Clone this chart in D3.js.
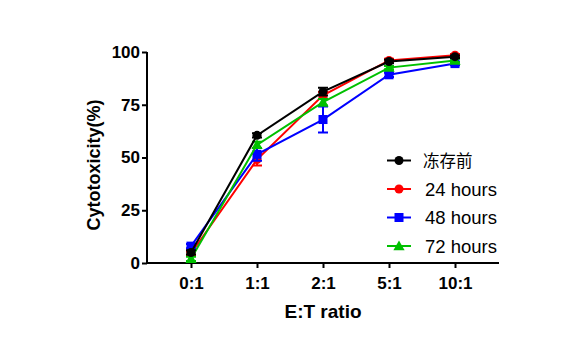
<!DOCTYPE html>
<html><head><meta charset="utf-8">
<script src="https://cdn.jsdelivr.net/npm/d3@7"></script>
<style>body{margin:0;background:#fff}svg{display:block}text{font-family:"Liberation Sans",Arial,sans-serif}</style>
</head><body><svg id="c" width="572" height="352"></svg>
<script>
const categories = ["0:1","1:1","2:1","5:1","10:1"];
const yTicks = [0,25,50,75,100];
const seriesNames = ["冻存前","24 hours","48 hours","72 hours"];
const seriesColors = ["#000000","#ff0000","#0000ff","#00c000"];
const seriesShapes = ["circle","circle","square","triangle"];
const valsBefore = [5,60.5,81.2,95.5,97.8];
const vals24 = [4.5,49,79.5,96,98.5];
const vals48 = [8,51.5,68,89.2,94.5];
const vals72 = [2,56,76.2,92.6,96];
const errBefore = [1,1,1.8,0.8,0.6];
const err24 = [1,2.8,1.5,0.8,0.6];
const err48 = [1,3,6.2,1,0.8];
const err72 = [1,1.5,1.5,0.8,0.8];
const series = [valsBefore, vals24, vals48, vals72];
const errs = [errBefore, err24, err48, err72];

const svg = d3.select("#c");
const x = d3.scalePoint().domain(categories).range([191,455]);
const y = d3.scaleLinear().domain([0,100]).range([263,52]);

const yAxis = svg.append("g").attr("transform","translate(147,0)")
  .call(d3.axisLeft(y).tickValues(yTicks).tickSize(5).tickPadding(2));
yAxis.select(".domain").attr("stroke-width",2).attr("d","M-0,52V263");
yAxis.selectAll(".tick line").attr("stroke-width",2);
yAxis.selectAll("text").attr("font-size",17).attr("font-weight","bold").attr("fill","#000");

const xAxis = svg.append("g").attr("transform","translate(0,263)")
  .call(d3.axisBottom(x).tickSize(5).tickPadding(9));
xAxis.select(".domain").attr("stroke-width",2).attr("d","M146,0H499");
xAxis.selectAll(".tick line").attr("stroke-width",2);
xAxis.selectAll("text").attr("font-size",17).attr("font-weight","bold").attr("fill","#000");

svg.append("text").attr("x",323).attr("y",318).attr("text-anchor","middle")
  .attr("font-size",19).attr("font-weight","bold").text("E:T ratio");
svg.append("text").attr("transform","translate(100,165) rotate(-90)").attr("text-anchor","middle")
  .attr("font-size",18).attr("font-weight","bold").text("Cytotoxicity(%)");

function marker(g, shape, color, cx, cy){
  if(shape==="circle") g.append("circle").attr("cx",cx).attr("cy",cy).attr("r",4.5).attr("fill",color);
  else if(shape==="square") g.append("rect").attr("x",cx-4.5).attr("y",cy-4.5).attr("width",9).attr("height",9).attr("fill",color);
  else g.append("path").attr("d",d3.symbol(d3.symbolTriangle,55)()).attr("transform",`translate(${cx},${cy+1})`).attr("fill",color);
}

const line = d3.line().x((d,i)=>x(categories[i])).y(d=>y(d));
const order = [1,2,3,0];
order.forEach(s=>{
  const g = svg.append("g");
  const c = seriesColors[s];
  g.append("path").attr("d",line(series[s])).attr("fill","none").attr("stroke",c).attr("stroke-width",2);
  series[s].forEach((v,i)=>{
    const cx = x(categories[i]), e = errs[s][i];
    g.append("path").attr("d",`M${cx},${y(v-e)}V${y(v+e)}M${cx-5},${y(v-e)}H${cx+5}M${cx-5},${y(v+e)}H${cx+5}`)
      .attr("stroke",c).attr("stroke-width",2).attr("fill","none");
    marker(g, seriesShapes[s], c, cx, y(v));
  });
});

const leg = svg.append("g");
seriesNames.forEach((n,i)=>{
  const ly = 160.5 + i*28.5;
  leg.append("line").attr("x1",387).attr("x2",411).attr("y1",ly).attr("y2",ly).attr("stroke",seriesColors[i]).attr("stroke-width",2);
  marker(leg, seriesShapes[i], seriesColors[i], 399, ly);
  leg.append("text").attr("x",i===0?423:425).attr("y",ly+(i===0?6:6.5)).attr("font-size",i===0?16.5:18.5).attr("fill","#000")
    .style("font-family", i===0 ? '"Noto Sans CJK SC",sans-serif' : null).text(n);
});
</script></body></html>
